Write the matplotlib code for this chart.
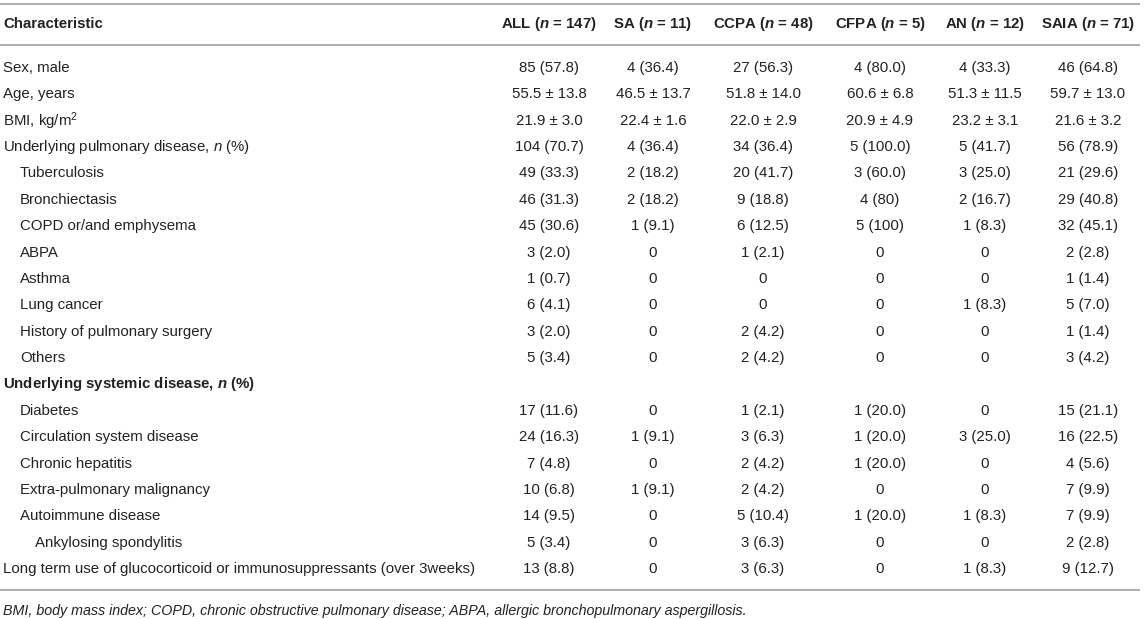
import matplotlib.pyplot as plt

plt.rcParams['font.family'] = ['Liberation Sans', 'DejaVu Sans']
plt.rcParams['mathtext.fontset'] = 'custom'
plt.rcParams['mathtext.rm'] = 'Liberation Sans'
plt.rcParams['mathtext.it'] = 'Liberation Sans:italic'
plt.rcParams['mathtext.bf'] = 'Liberation Sans:bold'
plt.rcParams['mathtext.bfit'] = 'Liberation Sans:italic:bold'

# --- table data ---
groups = ['ALL', 'SA', 'CCPA', 'CFPA', 'AN', 'SAIA']
group_n = [147, 11, 48, 5, 12, 71]

row_labels = [
    'Sex, male',
    'Age, years',
    'BMI, kg/m$^{2}$',
    'Underlying pulmonary disease, $n$ (%)',
    'Tuberculosis',
    'Bronchiectasis',
    'COPD or/and emphysema',
    'ABPA',
    'Asthma',
    'Lung cancer',
    'History of pulmonary surgery',
    'Others',
    r'Underlying systemic disease, $\mathbfit{n}$ (%)',
    'Diabetes',
    'Circulation system disease',
    'Chronic hepatitis',
    'Extra-pulmonary malignancy',
    'Autoimmune disease',
    'Ankylosing spondylitis',
    'Long term use of glucocorticoid or immunosuppressants (over 3weeks)',
]
row_indent = [0, 0, 0, 0, 1, 1, 1, 1, 1, 1, 1, 1, 0, 1, 1, 1, 1, 1, 2, 0]
row_bold = [False] * 12 + [True] + [False] * 7

col_all = ['85 (57.8)', '55.5 ± 13.8', '21.9 ± 3.0', '104 (70.7)', '49 (33.3)',
           '46 (31.3)', '45 (30.6)', '3 (2.0)', '1 (0.7)', '6 (4.1)', '3 (2.0)',
           '5 (3.4)', '', '17 (11.6)', '24 (16.3)', '7 (4.8)', '10 (6.8)',
           '14 (9.5)', '5 (3.4)', '13 (8.8)']
col_sa = ['4 (36.4)', '46.5 ± 13.7', '22.4 ± 1.6', '4 (36.4)', '2 (18.2)',
          '2 (18.2)', '1 (9.1)', '0', '0', '0', '0', '0', '', '0', '1 (9.1)',
          '0', '1 (9.1)', '0', '0', '0']
col_ccpa = ['27 (56.3)', '51.8 ± 14.0', '22.0 ± 2.9', '34 (36.4)', '20 (41.7)',
            '9 (18.8)', '6 (12.5)', '1 (2.1)', '0', '0', '2 (4.2)', '2 (4.2)', '',
            '1 (2.1)', '3 (6.3)', '2 (4.2)', '2 (4.2)', '5 (10.4)', '3 (6.3)',
            '3 (6.3)']
col_cfpa = ['4 (80.0)', '60.6 ± 6.8', '20.9 ± 4.9', '5 (100.0)', '3 (60.0)',
            '4 (80)', '5 (100)', '0', '0', '0', '0', '0', '', '1 (20.0)',
            '1 (20.0)', '1 (20.0)', '0', '1 (20.0)', '0', '0']
col_an = ['4 (33.3)', '51.3 ± 11.5', '23.2 ± 3.1', '5 (41.7)', '3 (25.0)',
          '2 (16.7)', '1 (8.3)', '0', '0', '1 (8.3)', '0', '0', '', '0',
          '3 (25.0)', '0', '0', '1 (8.3)', '0', '1 (8.3)']
col_saia = ['46 (64.8)', '59.7 ± 13.0', '21.6 ± 3.2', '56 (78.9)', '21 (29.6)',
            '29 (40.8)', '32 (45.1)', '2 (2.8)', '1 (1.4)', '5 (7.0)', '1 (1.4)',
            '3 (4.2)', '', '15 (21.1)', '16 (22.5)', '4 (5.6)', '7 (9.9)',
            '7 (9.9)', '2 (2.8)', '9 (12.7)']
columns = [col_all, col_sa, col_ccpa, col_cfpa, col_an, col_saia]

footnote = ('BMI, body mass index; COPD, chronic obstructive pulmonary disease; '
            'ABPA, allergic bronchopulmonary aspergillosis.')

# --- layout (pixel coords of the figure) ---
W, H = 1145, 619
col_x = [549, 653, 763, 880, 985, 1088]
row_y0, row_step = 68, 26.37
indent_x = [3, 20, 35]
fs = 10.8
txt = '#222222'
rule = '#a8a8a8'

fig = plt.figure(figsize=(W / 100, H / 100), dpi=100)
ax = fig.add_axes([0, 0, 1, 1])
ax.set_xlim(0, W)
ax.set_ylim(H, 0)
ax.axis('off')

# rules
for y in (4, 45, 590):
    ax.plot([0, 1140], [y, y], color=rule, lw=1.3, solid_capstyle='butt')

# header
ax.text(3, 24, 'Characteristic', fontsize=fs, fontweight='bold', color=txt,
        ha='left', va='center')
for g, n, x in zip(groups, group_n, col_x):
    ax.text(x, 24, g + r' ($\mathbfit{n}$ = ' + str(n) + ')', fontsize=fs,
            fontweight='bold', color=txt, ha='center', va='center')

# body
for i, lab in enumerate(row_labels):
    y = row_y0 + i * row_step
    ax.text(indent_x[row_indent[i]], y, lab, fontsize=fs, color=txt,
            fontweight='bold' if row_bold[i] else 'normal',
            ha='left', va='center')
    for col, x in zip(columns, col_x):
        if col[i]:
            ax.text(x, y, col[i], fontsize=fs, color=txt,
                    ha='center', va='center')

ax.text(3, 611, footnote, fontsize=fs * 0.95, style='italic', color=txt,
        ha='left', va='center')

fig.savefig('out.png', dpi=100)
